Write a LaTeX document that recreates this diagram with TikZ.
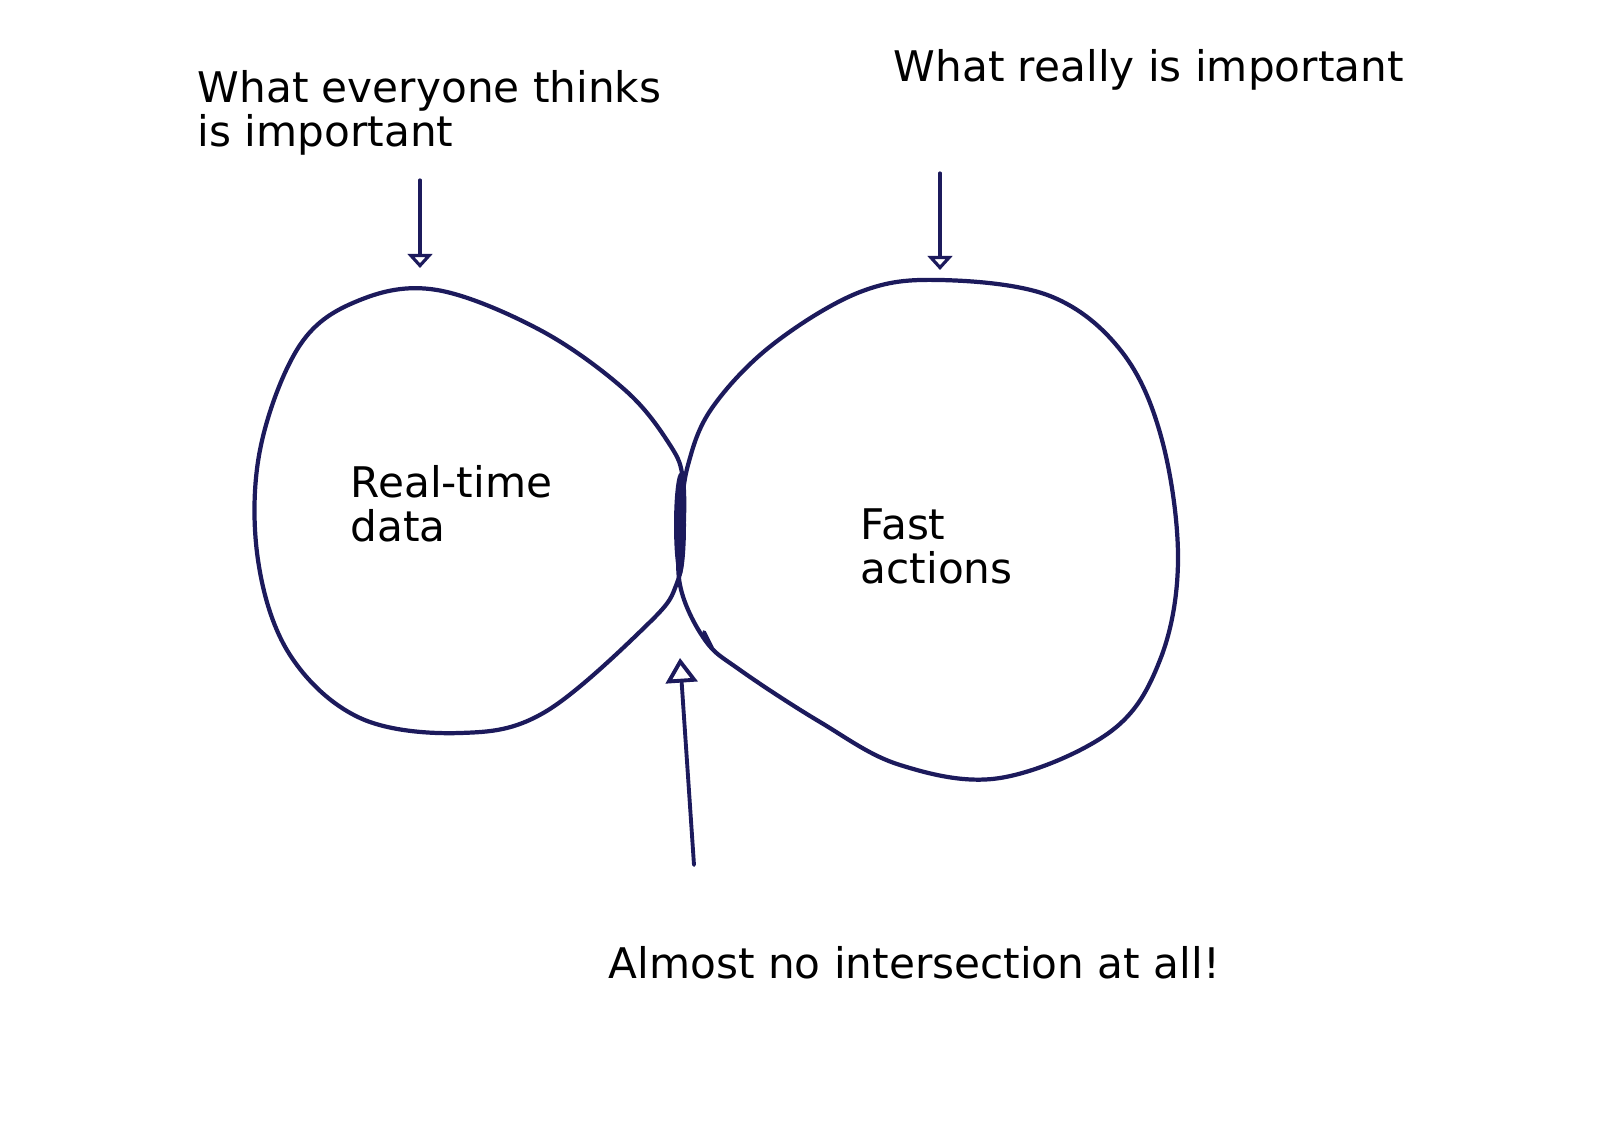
\documentclass[tikz,border=0pt]{standalone}
\usepackage{fontspec}
\setmainfont{DejaVu Sans}
\usetikzlibrary{positioning,arrows.meta}
\definecolor{ink}{RGB}{28,26,92}

\begin{document}
\begin{tikzpicture}[x={(0.01cm,0)}, y={(0,-0.01cm)},
    blob/.style={draw=ink, line width=1.2pt, line join=round},
    pointer/.style={draw=ink, line width=0.9pt, line cap=round, -{Triangle[open, length=4pt, width=7pt, line width=0.9pt]}},
    label/.style={inner sep=0pt, font=\fontsize{12}{12.5}\selectfont, align=left}]
				\useasboundingbox (0,0) rectangle (1600,1143);
				% the two sets
				\draw[blob] plot[smooth cycle, tension=0.6] coordinates {(437,290) (540,330) (625,390) (670,445) (683,480) (683,540) (677,583) (650,622) (545,712) (460,733) (360,718) (290,655) (258,560) (260,450) (300,345) (360,300)};
				\draw[blob] plot[smooth cycle, tension=0.6] coordinates {(940,280) (1050,296) (1122,352) (1162,440) (1178,560) (1160,660) (1110,732) (1000,778) (900,765) (820,722) (740,670) (705,640) (680,585) (681,520) (688,465) (712,408) (772,345) (860,292)};
				\fill[ink] (680,525) ellipse [x radius=6, y radius=52];
				\draw[ink, line width=1.1pt, line cap=round] (704,632) -- (712,648);
				% arrow ends
				\coordinate (left top) at (420,180);
				\coordinate (left tip) at (420,268);
				\coordinate (right top) at (940,173);
				\coordinate (right tip) at (940,270);
				\coordinate (low tail) at (694,865);
				\coordinate (low tip) at (680,658);
				\draw[pointer] (left top) -- (left tip);
				\draw[pointer] (right top) -- (right tip);
				\draw[ink, line width=1.1pt, line cap=round, -{Triangle[open, length=7pt, width=9pt, line width=1.1pt]}] (low tail) -- (low tip);
				% texts
				\node[label, anchor=north west] (everyone) at (197,70) {What everyone thinks\\is important};
				\node[label, anchor=base west] (really) at (893,82) {What really is important};
				\node[label, anchor=north west] (realtime) at (350,465) {Real-time\\data};
				\node[label, anchor=north west] (fast) at (860,508) {Fast\\actions};
				\node[label, anchor=base west] (almost) at (608,978) {Almost no intersection at all!};
			\end{tikzpicture}
\end{document}
